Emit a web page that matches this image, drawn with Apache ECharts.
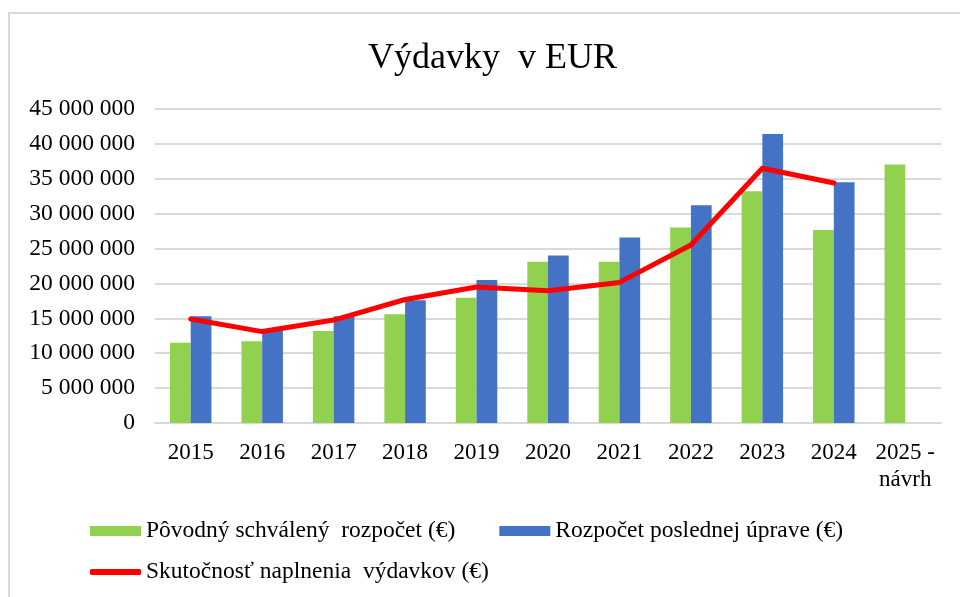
<!DOCTYPE html>
<html>
<head>
<meta charset="utf-8">
<script src="https://cdn.jsdelivr.net/npm/echarts@6.0.0/dist/echarts.min.js"></script>
<style>
  html, body { margin: 0; padding: 0; background: #fff; }
  #chart { width: 960px; height: 597px; }
</style>
</head>
<body>
<div id="chart"></div>
<script>
// Chart data (EUR)
const years = ['2015', '2016', '2017', '2018', '2019', '2020', '2021', '2022', '2023', '2024', '2025 -\nnávrh'];
const povodny = [11500000, 11700000, 13200000, 15600000, 17950000, 23100000, 23100000, 28000000, 33200000, 27650000, 37050000];
const upraveny = [15300000, 13300000, 15300000, 17600000, 20500000, 24000000, 26600000, 31200000, 41400000, 34500000, null];
const skutocnost = [14900000, 13100000, 14750000, 17700000, 19500000, 18950000, 20150000, 25500000, 36500000, 34400000, null];
const yTicks = { min: 0, max: 45000000, interval: 5000000 };

const names = {
  green: 'Pôvodný schválený  rozpočet (€)',
  blue: 'Rozpočet poslednej úprave (€)',
  red: 'Skutočnosť naplnenia  výdavkov (€)'
};

const font = '"Liberation Serif", "Times New Roman", serif';

// format number with space as thousands separator
const fmt = v => String(v).replace(/\B(?=(\d{3})+(?!\d))/g, ' ');

const chart = echarts.init(document.getElementById('chart'));

const option = {
  backgroundColor: '#fff',
  animation: false,
  textStyle: { fontFamily: font, color: '#000' },
  title: {
    text: 'Výdavky  v EUR',
    left: 368,
    top: 41,
    padding: 0,
    textStyle: { fontFamily: font, fontSize: 36, fontWeight: 'normal', color: '#000' }
  },
  graphic: [{
    type: 'rect',
    shape: { x: 9, y: 13, width: 1000, height: 1000 },
    style: { fill: 'none', stroke: '#d9d9d9', lineWidth: 2 },
    silent: true
  }],
  legend: [{
    data: [names.green, names.blue],
    left: 90,
    top: 519,
    padding: 0,
    itemGap: 44,
    itemWidth: 51,
    itemHeight: 10,
    icon: 'rect',
    textStyle: { fontFamily: font, fontSize: 23.5, color: '#000' }
  }, {
    data: [names.red],
    left: 90,
    top: 560,
    padding: 0,
    itemWidth: 51,
    itemHeight: 6,
    icon: 'roundRect',
    textStyle: { fontFamily: font, fontSize: 23.5, color: '#000' }
  }],
  grid: { left: 155, right: 19, top: 109, bottom: 174, containLabel: false },
  xAxis: {
    type: 'category',
    data: years,
    axisTick: { show: false },
    axisLine: { lineStyle: { color: '#d9d9d9', width: 2 } },
    axisLabel: {
      fontFamily: font,
      fontSize: 23,
      color: '#000',
      margin: 16,
      lineHeight: 27,
      interval: 0
    }
  },
  yAxis: {
    type: 'value',
    min: yTicks.min,
    max: yTicks.max,
    interval: yTicks.interval,
    axisLine: { show: false },
    axisTick: { show: false },
    splitLine: { lineStyle: { color: '#d9d9d9', width: 2 } },
    axisLabel: {
      fontFamily: font,
      fontSize: 23.5,
      color: '#000',
      margin: 20,
      formatter: v => fmt(v)
    }
  },
  series: [{
    name: names.green,
    type: 'bar',
    data: povodny,
    barGap: '0%',
    barCategoryGap: '42%',
    itemStyle: { color: '#92d050' }
  }, {
    name: names.blue,
    type: 'bar',
    data: upraveny,
    itemStyle: { color: '#4472c4' }
  }, {
    name: names.red,
    type: 'line',
    data: skutocnost,
    symbol: 'none',
    z: 5,
    lineStyle: { color: '#ff0000', width: 5, cap: 'round', join: 'round' },
    itemStyle: { color: '#ff0000' }
  }]
};

chart.setOption(option);
</script>
</body>
</html>
